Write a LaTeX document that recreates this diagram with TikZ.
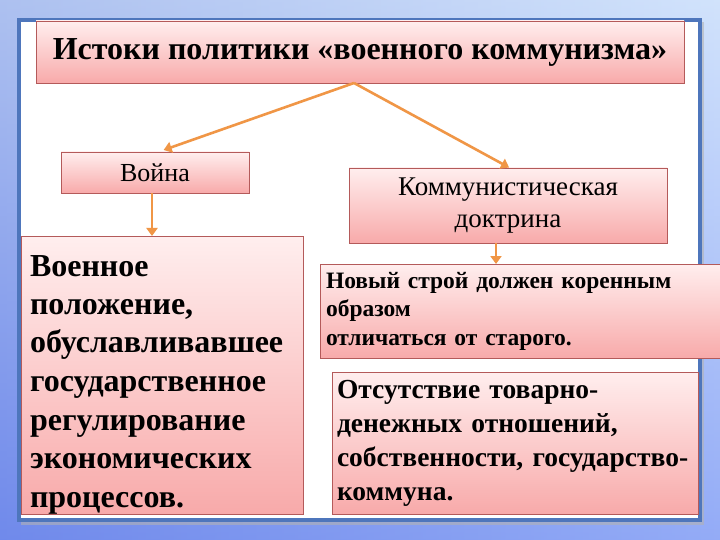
\documentclass[tikz,border=0pt]{standalone}
\usepackage{fontspec}
\setmainfont{Liberation Serif}
\usepackage{tikz}
\usetikzlibrary{arrows.meta}
\definecolor{linkorange}{RGB}{240,150,70}
\definecolor{boxedge}{RGB}{180,90,90}
\definecolor{boxtop}{RGB}{255,238,238}
\definecolor{boxbottom}{RGB}{248,170,170}
\definecolor{panelblue}{RGB}{78,118,188}
\definecolor{skyleft}{RGB}{130,160,232}
\definecolor{skyright}{RGB}{185,212,250}
\tikzstyle{pinkbox}=[draw=boxedge, line width=0.6pt, top color=boxtop, bottom color=boxbottom,
                     anchor=north west, inner sep=0, outer sep=0]
\tikzstyle{headbox}=[pinkbox, align=center]
\tikzstyle{listbox}=[pinkbox, align=left]
\tikzstyle{link}=[draw=linkorange, line width=2.6pt, -{Triangle[length=8pt,width=11pt]}]
\tikzstyle{slide}=[x=1pt, y=-1pt,
                   % Pixel grid of the slide, y going down.
                   execute at begin picture={\useasboundingbox (0,0) rectangle (720,540);}]
\begin{document}
\begin{tikzpicture}[slide]
        \shade[left color=skyleft, right color=skyright] (0,0) rectangle (720,540);
        \shade[top color=white, bottom color=skyleft!60!blue, opacity=0.35] (0,0) rectangle (720,540);
        \fill[black!30, opacity=0.6] (21,22) rectangle (704,525);
        \draw[panelblue, line width=4pt, fill=white] (19,20) rectangle (700,520);
        \node[headbox, minimum width=648pt, minimum height=62pt, font=\fontsize{32}{36}\selectfont\bfseries] (title) at (36,21)
            {Истоки политики «военного коммунизма»};
        \node[headbox, minimum width=188pt, minimum height=41pt, font=\fontsize{26}{30}\selectfont] (war) at (61,152)
            {Война};
        \node[headbox, minimum width=318pt, minimum height=75pt, font=\fontsize{27}{32}\selectfont] (doctrine) at (349,168)
            {Коммунистическая\\доктрина};
        \node[listbox, text width=264pt, inner xsep=9pt, minimum height=277pt, font=\fontsize{32}{38.5}\selectfont\bfseries] (martial) at (21,236)
            {\rule{0pt}{40pt}Военное\\положение,\\обуславливавшее\\государственное\\регулирование\\экономических\\процессов.};
        \node[listbox, text width=396pt, inner xsep=6pt, minimum height=94pt, font=\fontsize{23.5}{28.5}\selectfont\bfseries] (order) at (320,264)
            {Новый строй должен коренным\\образом\\отличаться от старого.};
        \node[listbox, text width=356pt, inner xsep=5pt, minimum height=142pt, font=\fontsize{27.5}{34}\selectfont\bfseries] (commune) at (332,372)
            {Отсутствие товарно-\\денежных отношений,\\\mbox{собственности, государство-}\\коммуна.};
        \draw[link, shorten >=6pt] ([xshift=-6pt]title.south) -- ([xshift=3pt]war.north);
        \draw[link, shorten >=1pt] ([xshift=-6pt]title.south) -- ([xshift=2pt]doctrine.north);
        \draw[link] ([xshift=-3pt]war.south) -- ([xshift=-3pt]war.south |- martial.north);
        \draw[link] ([xshift=-12pt]doctrine.south) -- ([xshift=-12pt]doctrine.south |- order.north);
    \end{tikzpicture}
\end{document}
